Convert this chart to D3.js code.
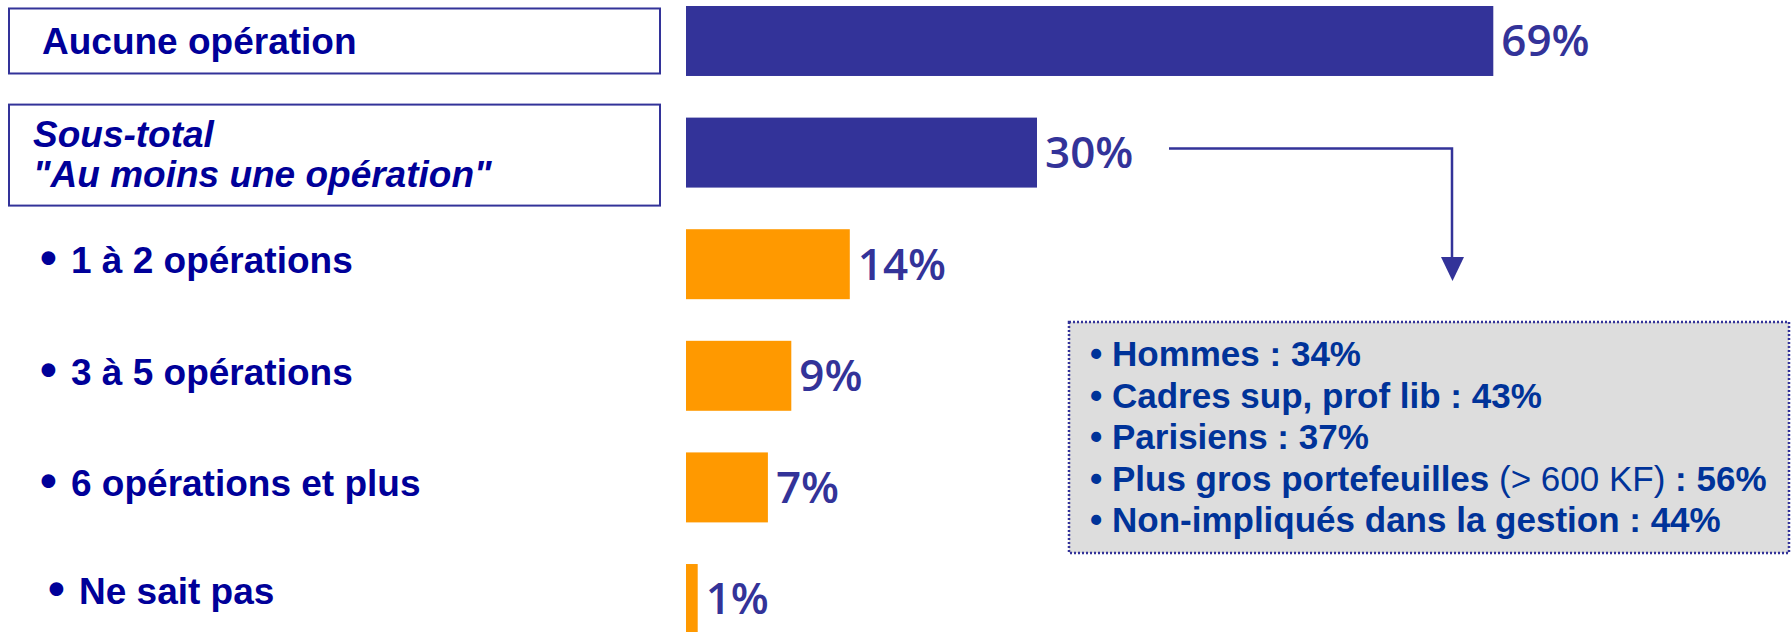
<!DOCTYPE html>
<html>
<head>
<meta charset="utf-8">
<script src="https://cdn.jsdelivr.net/npm/d3@7"></script>
<style>
    body { margin: 0; background: #ffffff; }
    svg { display: block; }
</style>
</head>
<body>
<div id="chart"></div>
<script>
// bars, top to bottom
const categories = ["Aucune opération", "Sous-total", "1 à 2 opérations", "3 à 5 opérations", "6 opérations et plus", "Ne sait pas"];
const labelLines = [["Aucune opération"], ["Sous-total", "\"Au moins une opération\""], ["1 à 2 opérations"], ["3 à 5 opérations"], ["6 opérations et plus"], ["Ne sait pas"]];
const values = [69, 30, 14, 9, 7, 1];
const groups = ["total", "total", "detail", "detail", "detail", "detail"];

// callout box content
const calloutItems = ["Hommes", "Cadres sup, prof lib", "Parisiens", "Plus gros portefeuilles", "Non-impliqués dans la gestion"];
const calloutNotes = ["", "", "", "(> 600 KF)", ""];
const calloutValues = [34, 43, 37, 56, 44];

const width = 1791, height = 632;
const colors = {total: "#333399", detail: "#ff9900"};
const labelColor = "#000099";
const font = "Arial, 'Liberation Sans', sans-serif";

let svg = d3.select("#chart").append("svg")
    .attr("width", width)
    .attr("height", height);

svg.append("rect").attr("width", width).attr("height", height).attr("fill", "#ffffff");

let y = d3.scaleBand()
    .domain(categories)
    .range([6, 634])
    .paddingInner(0.373)
    .paddingOuter(0);

let x = d3.scaleLinear()
    .domain([0, 100])
    .range([686, 1856]);

let bw = y.bandwidth();

// bars
svg.selectAll(".bar")
    .data(categories)
    .enter().append("rect")
    .attr("class", "bar")
    .attr("x", x(0))
    .attr("y", d => y(d))
    .attr("width", (d, i) => x(values[i]) - x(0))
    .attr("height", bw)
    .attr("fill", (d, i) => colors[groups[i]]);

// value labels
svg.selectAll(".value")
    .data(categories)
    .enter().append("text")
    .attr("class", "value")
    .attr("x", (d, i) => x(values[i]) + 8)
    .attr("y", d => y(d) + bw / 2)
    .attr("dy", "0.35em")
    .attr("font-family", "'Open Sans', sans-serif")
    .attr("font-weight", 600)
    .attr("font-size", 44)
    .attr("fill", "#333399")
    .text((d, i) => values[i] + "%");

// left labels
categories.forEach((c, i) => {
    let cy = y(c) + bw / 2;
    let lines = labelLines[i];
    if (groups[i] === "total") {
        let boxH = lines.length > 1 ? 101 : 65;
        let boxCy = lines.length > 1 ? cy + 2.5 : cy;
        svg.append("rect")
            .attr("x", 9)
            .attr("y", boxCy - boxH / 2)
            .attr("width", 651)
            .attr("height", boxH)
            .attr("fill", "#ffffff")
            .attr("stroke", "#333399")
            .attr("stroke-width", 2);

        let t = svg.append("text")
            .attr("font-family", font)
            .attr("font-weight", "bold")
            .attr("font-size", 37)
            .attr("fill", labelColor)
            .attr("font-style", lines.length > 1 ? "italic" : "normal");
        if (lines.length > 1) {
            lines.forEach((l, j) => {
                t.append("tspan")
                    .attr("x", 33)
                    .attr("y", cy - 6 + j * 40)
                    .text(l);
            });
        } else {
            t.attr("x", 42).attr("y", cy + 13.5).text(lines[0]);
        }
    } else {
        // last row sits a little further right
        let last = i === categories.length - 1;
        let indent = last ? 8 : 0;
        let ty = cy + (last ? 5 : 9);
        svg.append("text")
            .attr("x", 40 + indent)
            .attr("y", ty + 1)
            .attr("font-family", font)
            .attr("font-weight", "bold")
            .attr("font-size", 48)
            .attr("fill", labelColor)
            .text("•");
        svg.append("text")
            .attr("x", 71 + indent)
            .attr("y", ty)
            .attr("font-family", font)
            .attr("font-weight", "bold")
            .attr("font-size", 37)
            .attr("fill", labelColor)
            .text(lines[0]);
    }
});

// arrow from the sub-total to the callout
let arrowY = y(categories[1]) + bw / 2 - 4;
svg.append("path")
    .attr("d", `M1169,${arrowY} H1452 V260`)
    .attr("fill", "none")
    .attr("stroke", "#333399")
    .attr("stroke-width", 2.5);
svg.append("path")
    .attr("d", "M1441,257 L1464,257 L1452.5,281 Z")
    .attr("fill", "#333399");

// callout box
let box = {x: 1069, y: 322, w: 720, h: 231};
svg.append("rect")
    .attr("x", box.x)
    .attr("y", box.y)
    .attr("width", box.w)
    .attr("height", box.h)
    .attr("fill", "#dddddd")
    .attr("stroke", "#333399")
    .attr("stroke-width", 2.5)
    .attr("stroke-dasharray", "2,2");

let callout = svg.selectAll(".callout")
    .data(calloutItems)
    .enter().append("text")
    .attr("class", "callout")
    .attr("x", box.x + 21)
    .attr("y", (d, i) => box.y + 44 + i * 41.5)
    .attr("font-family", font)
    .attr("font-size", 35)
    .attr("font-weight", "bold")
    .attr("fill", "#003399");

callout.append("tspan").text(d => "• " + d);
callout.append("tspan")
    .attr("font-weight", "normal")
    .text((d, i) => calloutNotes[i] ? " " + calloutNotes[i] : "");
callout.append("tspan").text((d, i) => " : " + calloutValues[i] + "%");
</script>
</body>
</html>
